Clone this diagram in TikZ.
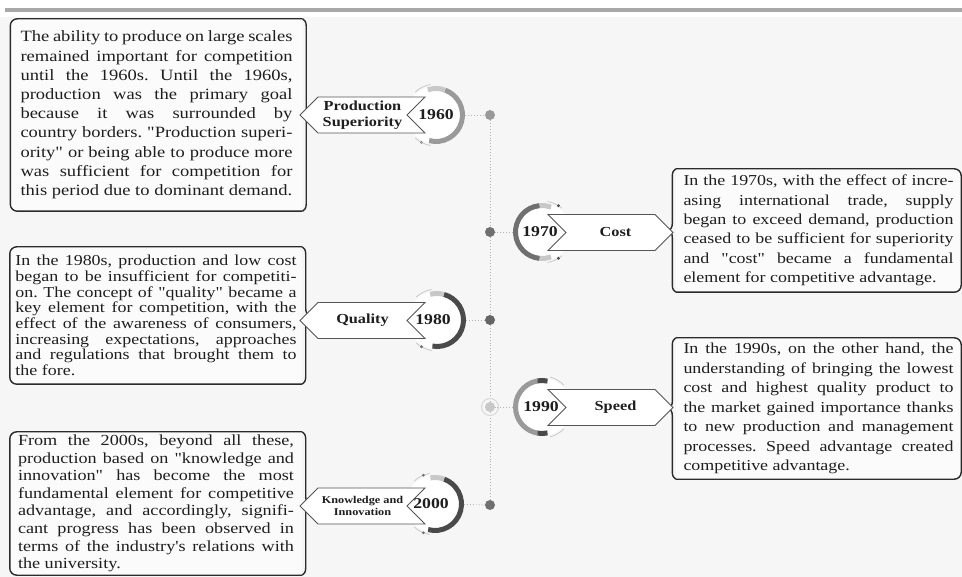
\documentclass[tikz,border=0pt]{standalone}
\usepackage{fontspec}
\setmainfont{Liberation Serif}
\newfontfamily\widefont[FakeStretch=1.18]{Liberation Serif}
\usepackage{xcolor}
\usetikzlibrary{positioning,shapes.symbols,decorations.pathreplacing}

\definecolor{pagebg}{HTML}{F6F6F6}
\definecolor{boxbg}{HTML}{FBFBFB}
\definecolor{framec}{HTML}{2B2B2B}
\definecolor{ink}{HTML}{1E1E1E}
\definecolor{rulec}{HTML}{A8A8A8}
\definecolor{linkc}{HTML}{B5B5B5}
\definecolor{ringlight}{HTML}{C8C8C8}
\definecolor{ringmid}{HTML}{9A9A9A}
\definecolor{ringdark}{HTML}{707070}
\definecolor{ringdeep}{HTML}{4A4A4A}
\definecolor{tagline}{HTML}{555555}

% one justified line of a text box
\newcommand{\jl}[1]{\makebox[\hsize][s]{\spaceskip=0pt\xspaceskip=0pt\frenchspacing #1}}

\begin{document}
\begin{tikzpicture}[
    x=1pt, y=1pt,
    textbox/.style={
        fill=boxbg,
        rounded corners=7pt,
        inner ysep=0pt,
        align=justify,
        text=ink
    },
    boxline/.style={draw=framec, line width=1.4pt},
    braceline/.style={boxline, decorate, decoration={brace, amplitude=7pt}},
    tag/.style={
        signal,
        draw=tagline,
        line width=0.8pt,
        fill=white,
        minimum width=125pt,
        minimum height=36pt,
        inner sep=1pt,
        align=center,
        text=ink,
        font=\widefont\bfseries\fontsize{13.8}{16}\selectfont
    },
    tagleft/.style={tag, signal to=west, signal from=east},
    tagright/.style={tag, signal to=east, signal from=west},
    yearbase/.style={circle, fill=white, minimum size=58pt, inner sep=0pt},
    yeartext/.style={text=ink, inner sep=0pt, font=\widefont\bfseries\fontsize{15}{16}\selectfont},
    ring/.style={line width=5pt},
    thinring/.style={draw=ringlight, line width=0.8pt},
    dot/.style={circle, minimum size=10pt, inner sep=0pt},
    link/.style={draw=linkc, dotted, line width=0.9pt}
]

\useasboundingbox (0,0) rectangle (962,-577);
\fill[pagebg] (0,-17) rectangle (962,-577);
\fill[rulec] (5,-8.5) rectangle (962,-12);

% text boxes on the left
\node[textbox, text width=272pt, inner xsep=10pt, minimum height=192pt,
      font={\widefont\fontsize{15.7}{19.2}\selectfont\lineskiplimit=-50pt\frenchspacing}] (b60) at (156.5,-115) {%
\jl{The ability to produce on large scales}\\
\jl{remained important for competition}\\
\jl{until the 1960s. Until the 1960s,}\\
\jl{production was the primary goal}\\
\jl{because it was surrounded by}\\
\jl{country borders. "Production superi-}\\
\jl{ority" or being able to produce more}\\
\jl{was sufficient for competition for}\\
this period due to dominant demand.};

\node[textbox, text width=281pt, inner xsep=5.5pt, minimum height=137pt,
      font={\widefont\fontsize{15.2}{15.7}\selectfont\lineskiplimit=-50pt\frenchspacing}] (b80) at (156,-315.5) {%
\jl{In the 1980s, production and low cost}\\
\jl{began to be insufficient for competiti-}\\
\jl{on. The concept of "quality" became a}\\
\jl{key element for competition, with the}\\
\jl{effect of the awareness of consumers,}\\
\jl{increasing expectations, approaches}\\
\jl{and regulations that brought them to}\\
the fore.};

\node[textbox, text width=276pt, inner xsep=8pt, minimum height=143pt,
      font={\widefont\fontsize{15.4}{17.6}\selectfont\lineskiplimit=-50pt\frenchspacing}] (b00) at (156,-503.5) {%
\jl{From the 2000s, beyond all these,}\\
\jl{production based on "knowledge and}\\
\jl{innovation" has become the most}\\
\jl{fundamental element for competitive}\\
\jl{advantage, and accordingly, signifi-}\\
\jl{cant progress has been observed in}\\
\jl{terms of the industry's relations with}\\
the university.};

% text boxes on the right
\node[textbox, text width=270pt, inner xsep=7.5pt, minimum height=123pt,
      font={\widefont\fontsize{15.2}{19.3}\selectfont\lineskiplimit=-50pt\frenchspacing}] (b70) at (818.5,-230.5) {%
\jl{In the 1970s, with the effect of incre-}\\
\jl{asing international trade, supply}\\
\jl{began to exceed demand, production}\\
\jl{ceased to be sufficient for superiority}\\
\jl{and "cost" became a fundamental}\\
element for competitive advantage.};

\node[textbox, text width=270pt, inner xsep=7.5pt, minimum height=141pt,
      font={\widefont\fontsize{15.2}{19.5}\selectfont\lineskiplimit=-50pt\frenchspacing}] (b90) at (818.5,-408.5) {%
\jl{In the 1990s, on the other hand, the}\\
\jl{understanding of bringing the lowest}\\
\jl{cost and highest quality product to}\\
\jl{the market gained importance thanks}\\
\jl{to new production and management}\\
\jl{processes. Speed advantage created}\\
competitive advantage.};

% frames with a brace side
\draw[boxline, rounded corners=7pt] (b60.north east) -- (b60.north west) -- (b60.south west) -- (b60.south east);
\draw[braceline] (b60.north east) -- (b60.south east);
\draw[boxline, rounded corners=7pt] (b80.north east) -- (b80.north west) -- (b80.south west) -- (b80.south east);
\draw[braceline] (b80.north east) -- (b80.south east);
\draw[boxline, rounded corners=7pt] (b00.north east) -- (b00.north west) -- (b00.south west) -- (b00.south east);
\draw[braceline] (b00.north east) -- (b00.south east);
\draw[boxline, rounded corners=7pt] (b70.north west) -- (b70.north east) -- (b70.south east) -- (b70.south west);
\draw[braceline] (b70.south west) -- (b70.north west);
\draw[boxline, rounded corners=7pt] (b90.north west) -- (b90.north east) -- (b90.south east) -- (b90.south west);
\draw[braceline] (b90.south west) -- (b90.north west);

% timeline
\node[dot, fill=ringmid] (d60) at (490,-115) {};
\node[dot, fill=ringdark] (d70) at (490,-232) {};
\node[dot, fill=ringdeep!85] (d80) at (490,-320) {};
\node[dot, fill=ringlight] (d90) at (490,-407) {};
\node[dot, fill=ringdark] (d00) at (490,-505) {};
\draw[link] (d60) -- (d70) -- (d80) -- (d90) -- (d00);
\draw[ringlight!70, line width=1pt] (d90.center) circle (8.5);

% year circles
\node[yearbase] (c60) at (436,-115) {};
\draw[ring, ringmid] (c60.center) ++(-105:26.5) arc[start angle=-105, end angle=70, radius=26.5];
\draw[ring, ringlight] (c60.center) ++(70:26.5) arc[start angle=70, end angle=108, radius=26.5];
\draw[thinring] (c60.center) ++(100:31) arc[start angle=100, end angle=132, radius=31];
\draw[thinring] (c60.center) ++(-100:31) arc[start angle=-100, end angle=-132, radius=31];
\fill[ringmid] (c60.center) ++(-118:31) circle (1.6);

\node[yearbase] (c70) at (542,-232) {};
\draw[ring, ringdark] (c70.center) ++(95:26.5) arc[start angle=95, end angle=265, radius=26.5];
\draw[ring, ringlight] (c70.center) ++(70:26.5) arc[start angle=70, end angle=95, radius=26.5];
\draw[ring, ringlight] (c70.center) ++(265:26.5) arc[start angle=265, end angle=290, radius=26.5];
\draw[thinring] (c70.center) ++(80:31) arc[start angle=80, end angle=50, radius=31];
\draw[thinring] (c70.center) ++(-80:31) arc[start angle=-80, end angle=-50, radius=31];
\fill[ringdeep] (c70.center) ++(58:31) circle (1.6);
\fill[ringdeep] (c70.center) ++(-58:31) circle (1.6);

\node[yearbase] (c80) at (437,-320) {};
\draw[ring, ringdeep] (c80.center) ++(-100:26.5) arc[start angle=-100, end angle=75, radius=26.5];
\draw[ring, ringlight] (c80.center) ++(75:26.5) arc[start angle=75, end angle=105, radius=26.5];
\draw[thinring] (c80.center) ++(100:31) arc[start angle=100, end angle=132, radius=31];
\draw[thinring] (c80.center) ++(-100:31) arc[start angle=-100, end angle=-132, radius=31];
\fill[ringdark] (c80.center) ++(-120:31) circle (1.6);

\node[yearbase] (c90) at (542,-407) {};
\draw[ring, ringmid] (c90.center) ++(100:26.5) arc[start angle=100, end angle=260, radius=26.5];
\draw[ring, ringdeep] (c90.center) ++(78:26.5) arc[start angle=78, end angle=100, radius=26.5];
\draw[ring, ringdeep] (c90.center) ++(260:26.5) arc[start angle=260, end angle=282, radius=26.5];
\draw[thinring] (c90.center) ++(75:31) arc[start angle=75, end angle=45, radius=31];
\draw[thinring] (c90.center) ++(-75:31) arc[start angle=-75, end angle=-45, radius=31];

\node[yearbase] (c00) at (435,-504) {};
\draw[ring, ringdeep] (c00.center) ++(-105:26.5) arc[start angle=-105, end angle=70, radius=26.5];
\draw[ring, ringlight] (c00.center) ++(70:26.5) arc[start angle=70, end angle=100, radius=26.5];
\draw[thinring] (c00.center) ++(100:31) arc[start angle=100, end angle=132, radius=31];
\draw[thinring] (c00.center) ++(-100:31) arc[start angle=-100, end angle=-132, radius=31];
\fill[ringdark] (c00.center) ++(112:31) circle (1.6);
\fill[ringdark] (c00.center) ++(-112:31) circle (1.6);

% tags
\node[tagleft] (t60) at (362.5,-115) {Production\\Superiority};
\node[tagright] (t70) at (610.5,-232.5) {\hspace*{10pt}Cost};
\node[tagleft] (t80) at (362.5,-320.5) {Quality};
\node[tagright] (t90) at (610.5,-407.5) {\hspace*{10pt}Speed};
\node[tagleft, font=\widefont\bfseries\fontsize{10.4}{12.5}\selectfont] (t00) at (362.5,-506) {Knowledge and\\Innovation};

% years
\node[yeartext] (y60) at (c60) {1960};
\node[yeartext, xshift=-2pt] (y70) at (c70) {1970};
\node[yeartext, xshift=-4pt] (y80) at (c80) {1980};
\node[yeartext, xshift=-1pt] (y90) at (c90) {1990};
\node[yeartext, xshift=-4pt] (y00) at (c00) {2000};

% links to the timeline
\draw[link] (c60) -- (d60);
\draw[link] (c70) -- (d70);
\draw[link] (c80) -- (d80);
\draw[link] (c90) -- (d90);
\draw[link] (c00) -- (d00);

\end{tikzpicture}
\end{document}
